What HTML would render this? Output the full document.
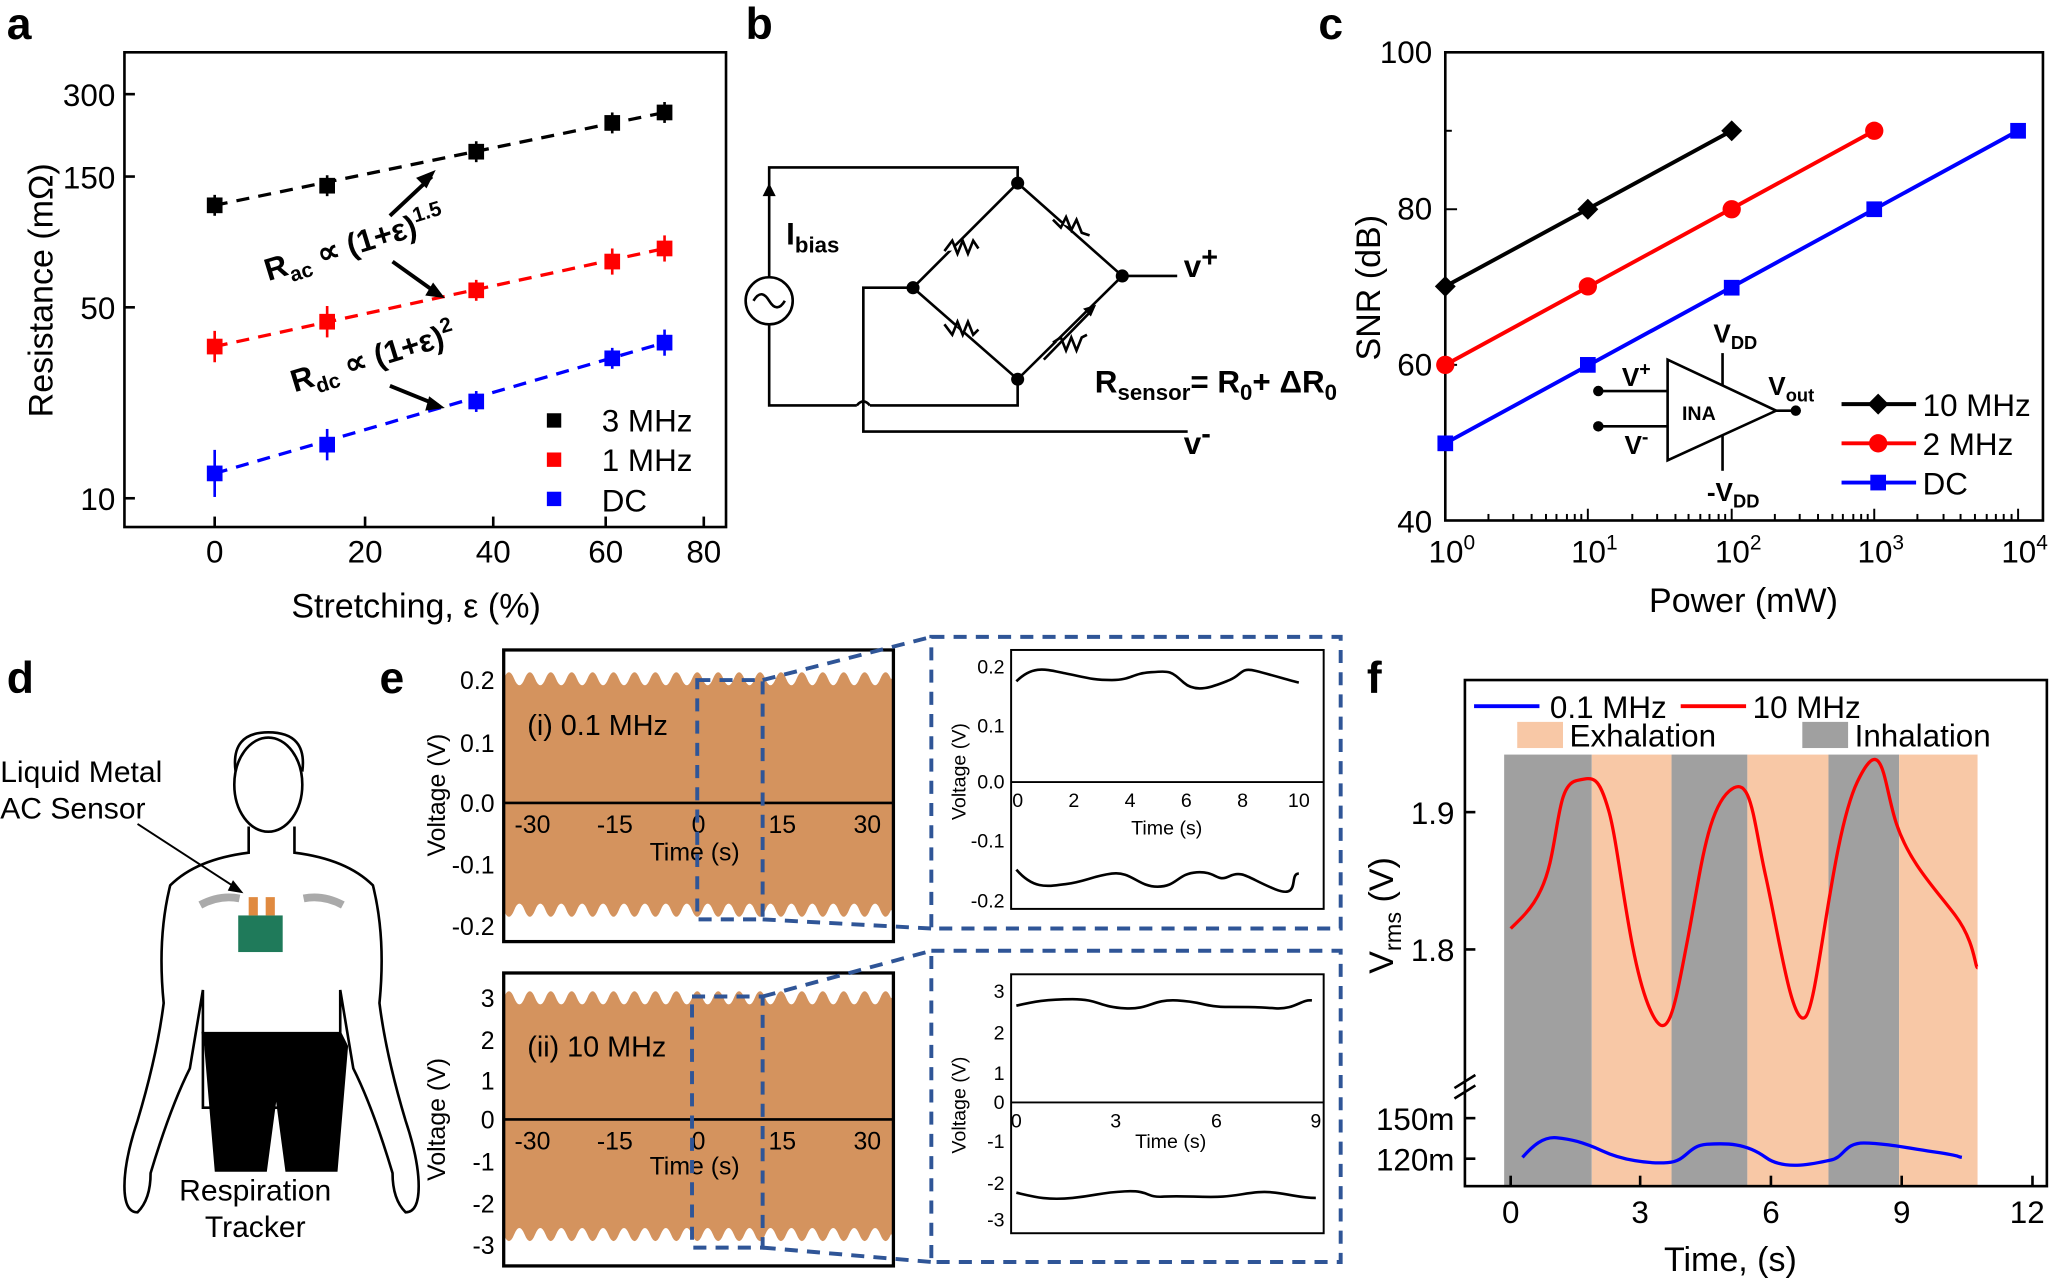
<!DOCTYPE html>
<html><head><meta charset="utf-8"><style>
html,body{margin:0;padding:0;background:#fff}
svg{display:block;font-family:"Liberation Sans",Arial,sans-serif}
</style></head><body>
<svg width="2051" height="1279" viewBox="0 0 1568 978" xmlns="http://www.w3.org/2000/svg">
<g font-weight="bold" font-size="34">
<text x="5" y="30">a</text><text x="570" y="30">b</text><text x="1008" y="30">c</text>
<text x="5" y="530">d</text><text x="290" y="530">e</text><text x="1045" y="530">f</text>
</g>
<!-- Panel a -->
<g font-size="24">
<rect x="95" y="40" width="460" height="363" fill="none" stroke="#000" stroke-width="2"/>
<g stroke="#000" stroke-width="2">
<line x1="164" y1="403" x2="164" y2="395"/><line x1="279" y1="403" x2="279" y2="395"/><line x1="377" y1="403" x2="377" y2="395"/><line x1="463" y1="403" x2="463" y2="395"/><line x1="538" y1="403" x2="538" y2="395"/>
<line x1="95" y1="381" x2="103" y2="381"/><line x1="95" y1="235" x2="103" y2="235"/><line x1="95" y1="135" x2="103" y2="135"/><line x1="95" y1="72" x2="103" y2="72"/>
</g>
<text x="164" y="430" text-anchor="middle">0</text><text x="279" y="430" text-anchor="middle">20</text><text x="377" y="430" text-anchor="middle">40</text><text x="463" y="430" text-anchor="middle">60</text><text x="538" y="430" text-anchor="middle">80</text>
<text x="88" y="390" text-anchor="end">10</text><text x="88" y="244" text-anchor="end">50</text><text x="88" y="144" text-anchor="end">150</text><text x="88" y="81" text-anchor="end">300</text>
<text x="318" y="472" text-anchor="middle" font-size="26">Stretching, ε (%)</text>
<text transform="translate(40,222) rotate(-90)" text-anchor="middle" font-size="26">Resistance (mΩ)</text>
<g stroke-dasharray="10,7" stroke-width="2.5"><line x1="164" y1="157" x2="508" y2="86" stroke="#000"/><line x1="164" y1="265" x2="508" y2="190" stroke="#f00"/><line x1="164" y1="362" x2="508" y2="262" stroke="#00f"/></g>
<g stroke-width="2">
<g stroke="#000"><line x1="164" y1="149" x2="164" y2="165"/><line x1="250" y1="134" x2="250" y2="150"/><line x1="364" y1="108" x2="364" y2="124"/><line x1="468" y1="86" x2="468" y2="102"/><line x1="508" y1="78" x2="508" y2="94"/></g>
<g stroke="#f00"><line x1="164" y1="253" x2="164" y2="277"/><line x1="250" y1="234" x2="250" y2="258"/><line x1="364" y1="214" x2="364" y2="230"/><line x1="468" y1="190" x2="468" y2="210"/><line x1="508" y1="180" x2="508" y2="200"/></g>
<g stroke="#00f"><line x1="164" y1="344" x2="164" y2="380"/><line x1="250" y1="328" x2="250" y2="352"/><line x1="364" y1="299" x2="364" y2="315"/><line x1="468" y1="266" x2="468" y2="282"/><line x1="508" y1="252" x2="508" y2="272"/></g>
</g>
<g><rect x="158" y="151" width="12" height="12"/><rect x="244" y="136" width="12" height="12"/><rect x="358" y="110" width="12" height="12"/><rect x="462" y="88" width="12" height="12"/><rect x="502" y="80" width="12" height="12"/></g>
<g fill="#f00"><rect x="158" y="259" width="12" height="12"/><rect x="244" y="240" width="12" height="12"/><rect x="358" y="216" width="12" height="12"/><rect x="462" y="194" width="12" height="12"/><rect x="502" y="184" width="12" height="12"/></g>
<g fill="#00f"><rect x="158" y="356" width="12" height="12"/><rect x="244" y="334" width="12" height="12"/><rect x="358" y="301" width="12" height="12"/><rect x="462" y="268" width="12" height="12"/><rect x="502" y="256" width="12" height="12"/></g>
<rect x="418" y="316" width="11" height="11"/><text x="460" y="330">3 MHz</text>
<rect x="418" y="346" width="11" height="11" fill="#f00"/><text x="460" y="360">1 MHz</text>
<rect x="418" y="376" width="11" height="11" fill="#00f"/><text x="460" y="391">DC</text>
<text transform="translate(205,215) rotate(-17)" font-weight="bold" font-size="24">R<tspan font-size="16" dy="6">ac</tspan><tspan dy="-6"> ∝ (1+ε)</tspan><tspan font-size="16" dy="-10">1.5</tspan></text>
<text transform="translate(225,300) rotate(-17)" font-weight="bold" font-size="24">R<tspan font-size="16" dy="6">dc</tspan><tspan dy="-6"> ∝ (1+ε)</tspan><tspan font-size="16" dy="-10">2</tspan></text>
<g stroke="#000" stroke-width="3"><line x1="298" y1="165" x2="330" y2="135"/><line x1="300" y1="200" x2="335" y2="225"/><line x1="298" y1="295" x2="335" y2="310"/></g>
<polygon points="333,130 318,136 326,144" /><polygon points="340,228 325,226 331,216"/><polygon points="340,312 325,314 328,303"/>
</g>
<!-- Panel b -->
<g stroke="#000" stroke-width="2" fill="none">
<polyline points="588,212 588,128 778,128 778,140"/>
<circle cx="588" cy="230" r="18"/><path d="M576,230 q6,-10 12,0 q6,10 12,0"/>
<polyline points="588,248 588,310 655,310"/>
<polyline points="698,220 660,220 660,330 908,330"/>
<path d="M655,310 q5,-6 10,0" />
<polyline points="778,290 778,310 665,310"/>
<line x1="778" y1="140" x2="698" y2="220"/><line x1="778" y1="140" x2="858" y2="211"/>
<line x1="698" y1="220" x2="778" y2="290"/><line x1="858" y1="211" x2="778" y2="290"/>
<line x1="858" y1="211" x2="900" y2="211"/>
<path d="M722,192 l6,-8 l4,10 l4,-10 l4,10 l4,-10 l4,6" fill="#fff"/>
<path d="M805,168 l6,6 l4,-8 l4,10 l4,-8 l4,10 l6,2" fill="#fff"/>
<path d="M722,248 l6,8 l4,-10 l4,10 l4,-10 l4,10 l4,-4" fill="#fff"/>
<path d="M805,262 l6,-4 l4,10 l4,-10 l4,10 l4,-10 l4,-2" fill="#fff"/>
<line x1="798" y1="275" x2="835" y2="237"/>
</g>
<g fill="#000"><circle cx="778" cy="140" r="5"/><circle cx="698" cy="220" r="5"/><circle cx="858" cy="211" r="5"/><circle cx="778" cy="290" r="5"/><polygon points="588,140 583,150 593,150"/><polygon points="838,233 828,236 834,242"/></g>
<g font-weight="bold" font-size="24">
<text x="601" y="187">I<tspan font-size="17" dy="6">bias</tspan></text>
<text x="905" y="212">v<tspan dy="-8" font-size="22">+</tspan></text>
<text x="905" y="347">v<tspan dy="-8" font-size="22">-</tspan></text>
<text x="837" y="300">R<tspan font-size="17" dy="6">sensor</tspan><tspan dy="-6">= R</tspan><tspan font-size="17" dy="6">0</tspan><tspan dy="-6">+ ΔR</tspan><tspan font-size="17" dy="6">0</tspan></text>
</g>
<!-- Panel c -->
<g font-size="24">
<rect x="1105" y="40" width="457" height="358" fill="none" stroke="#000" stroke-width="2"/>
<g stroke="#000" stroke-width="1.5">
<line x1="1138" y1="398" x2="1138" y2="393"/><line x1="1157" y1="398" x2="1157" y2="393"/><line x1="1171" y1="398" x2="1171" y2="393"/><line x1="1182" y1="398" x2="1182" y2="393"/><line x1="1190" y1="398" x2="1190" y2="393"/><line x1="1198" y1="398" x2="1198" y2="393"/><line x1="1204" y1="398" x2="1204" y2="393"/><line x1="1209" y1="398" x2="1209" y2="393"/>
<line x1="1248" y1="398" x2="1248" y2="393"/><line x1="1267" y1="398" x2="1267" y2="393"/><line x1="1281" y1="398" x2="1281" y2="393"/><line x1="1291" y1="398" x2="1291" y2="393"/><line x1="1300" y1="398" x2="1300" y2="393"/><line x1="1307" y1="398" x2="1307" y2="393"/><line x1="1314" y1="398" x2="1314" y2="393"/><line x1="1319" y1="398" x2="1319" y2="393"/>
<line x1="1357" y1="398" x2="1357" y2="393"/><line x1="1376" y1="398" x2="1376" y2="393"/><line x1="1390" y1="398" x2="1390" y2="393"/><line x1="1401" y1="398" x2="1401" y2="393"/><line x1="1409" y1="398" x2="1409" y2="393"/><line x1="1417" y1="398" x2="1417" y2="393"/><line x1="1423" y1="398" x2="1423" y2="393"/><line x1="1428" y1="398" x2="1428" y2="393"/>
<line x1="1466" y1="398" x2="1466" y2="393"/><line x1="1486" y1="398" x2="1486" y2="393"/><line x1="1499" y1="398" x2="1499" y2="393"/><line x1="1510" y1="398" x2="1510" y2="393"/><line x1="1519" y1="398" x2="1519" y2="393"/><line x1="1526" y1="398" x2="1526" y2="393"/><line x1="1532" y1="398" x2="1532" y2="393"/><line x1="1538" y1="398" x2="1538" y2="393"/>
<line x1="1214" y1="398" x2="1214" y2="389"/><line x1="1324" y1="398" x2="1324" y2="389"/><line x1="1433" y1="398" x2="1433" y2="389"/><line x1="1543" y1="398" x2="1543" y2="389"/>
<line x1="1105" y1="279" x2="1114" y2="279"/><line x1="1105" y1="160" x2="1114" y2="160"/><line x1="1105" y1="100" x2="1110" y2="100"/>
</g>
<text x="1095" y="48" text-anchor="end">100</text><text x="1095" y="168" text-anchor="end">80</text><text x="1095" y="287" text-anchor="end">60</text><text x="1095" y="407" text-anchor="end">40</text>
<text x="1110" y="430" text-anchor="middle">10<tspan font-size="16" dy="-10">0</tspan></text>
<text x="1219" y="430" text-anchor="middle">10<tspan font-size="16" dy="-10">1</tspan></text>
<text x="1329" y="430" text-anchor="middle">10<tspan font-size="16" dy="-10">2</tspan></text>
<text x="1438" y="430" text-anchor="middle">10<tspan font-size="16" dy="-10">3</tspan></text>
<text x="1548" y="430" text-anchor="middle">10<tspan font-size="16" dy="-10">4</tspan></text>
<text x="1333" y="468" text-anchor="middle" font-size="26">Power (mW)</text>
<text transform="translate(1055,220) rotate(-90)" text-anchor="middle" font-size="26">SNR (dB)</text>
<g stroke-width="3"><line x1="1105" y1="219" x2="1324" y2="100" stroke="#000"/><line x1="1105" y1="279" x2="1433" y2="100" stroke="#f00"/><line x1="1105" y1="339" x2="1543" y2="100" stroke="#00f"/></g>
<g><polygon points="1105,211 1113,219 1105,227 1097,219"/><polygon points="1214,152 1222,160 1214,168 1206,160"/><polygon points="1324,92 1332,100 1324,108 1316,100"/></g>
<g fill="#f00"><circle cx="1105" cy="279" r="7"/><circle cx="1214" cy="219" r="7"/><circle cx="1324" cy="160" r="7"/><circle cx="1433" cy="100" r="7"/></g>
<g fill="#00f"><rect x="1099" y="333" width="12" height="12"/><rect x="1208" y="273" width="12" height="12"/><rect x="1318" y="214" width="12" height="12"/><rect x="1427" y="154" width="12" height="12"/><rect x="1537" y="94" width="12" height="12"/></g>
<line x1="1408" y1="309" x2="1465" y2="309" stroke="#000" stroke-width="3"/><polygon points="1436,301 1444,309 1436,317 1428,309"/><text x="1470" y="318">10 MHz</text>
<line x1="1408" y1="339" x2="1465" y2="339" stroke="#f00" stroke-width="3"/><circle cx="1436" cy="339" r="7" fill="#f00"/><text x="1470" y="348">2 MHz</text>
<line x1="1408" y1="369" x2="1465" y2="369" stroke="#00f" stroke-width="3"/><rect x="1430" y="363" width="12" height="12" fill="#00f"/><text x="1470" y="378">DC</text>
<g stroke="#000" stroke-width="2" fill="none"><polygon points="1275,275 1275,352 1358,314"/><line x1="1222" y1="299" x2="1275" y2="299"/><line x1="1222" y1="326" x2="1275" y2="326"/><line x1="1317" y1="295" x2="1317" y2="270"/><line x1="1317" y1="333" x2="1317" y2="360"/><line x1="1358" y1="314" x2="1373" y2="314"/></g>
<circle cx="1222" cy="299" r="4"/><circle cx="1222" cy="326" r="4"/><circle cx="1373" cy="314" r="4"/>
<g font-weight="bold" font-size="20"><text x="1286" y="321" font-size="15">INA</text>
<text x="1240" y="295">V<tspan font-size="15" dy="-8">+</tspan></text><text x="1242" y="347">V<tspan font-size="15" dy="-8">-</tspan></text>
<text x="1310" y="262">V<tspan font-size="14" dy="5">DD</tspan></text><text x="1305" y="383">-V<tspan font-size="14" dy="5">DD</tspan></text>
<text x="1352" y="302">V<tspan font-size="14" dy="5">out</tspan></text></g>
</g>
<!-- Panel d -->
<g stroke="#000" stroke-width="2" fill="none">
<path d="M190,632 l0,20 q-40,5 -60,25 q-10,40 -5,90 q-5,40 -20,90 q-10,30 -10,50 q0,20 10,20 q10,-10 10,-30 q15,-50 30,-80 l10,-60 l0,90 l105,0 l0,-90 l10,60 q15,30 30,80 q0,20 10,30 q10,0 10,-20 q0,-20 -10,-50 q-15,-50 -20,-90 q5,-50 -5,-90 q-20,-20 -60,-25 l0,-20"/>
<path d="M155,790 l105,0 l5,10 l-8,95 l-38,0 l-8,-60 l-8,60 l-38,0 l-8,-95 z" fill="#000"/>
<ellipse cx="205" cy="600" rx="26" ry="36" fill="#fff"/>
<path d="M180,590 q-4,-30 25,-30 q30,0 26,30" />
<path d="M153,692 q15,-8 30,-5 M232,687 q15,-3 30,5" stroke="#aaa" stroke-width="6"/>
</g>
<rect x="182" y="700" width="34" height="28" fill="#1f7a5a"/><rect x="190" y="686" width="7" height="14" fill="#e08a40"/><rect x="203" y="686" width="7" height="14" fill="#e08a40"/>
<line x1="105" y1="630" x2="182" y2="680" stroke="#000" stroke-width="1.5"/><polygon points="186,683 174,681 178,673"/>
<g font-size="23"><text x="0" y="598">Liquid Metal</text><text x="0" y="626">AC Sensor</text>
<text x="195" y="918" text-anchor="middle">Respiration</text><text x="195" y="946" text-anchor="middle">Tracker</text></g>
<!-- Panel e -->
<g font-size="19">
<path fill="#d4935e" d="M385,519 q4,-10 8,0 t8,0 t8,0 t8,0 t8,0 t8,0 t8,0 t8,0 t8,0 t8,0 t8,0 t8,0 t8,0 t8,0 t8,0 t8,0 t8,0 t8,0 t8,0 t8,0 t8,0 t8,0 t8,0 t8,0 t8,0 t8,0 t8,0 t8,0 t8,0 t8,0 t8,0 t8,0 t8,0 t8,0 t8,0 t8,0 t8,0 L683,519 L683,696 L681,696 q-4,10 -8,0 t-8,0 t-8,0 t-8,0 t-8,0 t-8,0 t-8,0 t-8,0 t-8,0 t-8,0 t-8,0 t-8,0 t-8,0 t-8,0 t-8,0 t-8,0 t-8,0 t-8,0 t-8,0 t-8,0 t-8,0 t-8,0 t-8,0 t-8,0 t-8,0 t-8,0 t-8,0 t-8,0 t-8,0 t-8,0 t-8,0 t-8,0 t-8,0 t-8,0 t-8,0 t-8,0 t-8,0 Z"/>
<path fill="#d4935e" d="M385,763 q4,-10 8,0 t8,0 t8,0 t8,0 t8,0 t8,0 t8,0 t8,0 t8,0 t8,0 t8,0 t8,0 t8,0 t8,0 t8,0 t8,0 t8,0 t8,0 t8,0 t8,0 t8,0 t8,0 t8,0 t8,0 t8,0 t8,0 t8,0 t8,0 t8,0 t8,0 t8,0 t8,0 t8,0 t8,0 t8,0 t8,0 t8,0 L683,763 L683,944 L681,944 q-4,10 -8,0 t-8,0 t-8,0 t-8,0 t-8,0 t-8,0 t-8,0 t-8,0 t-8,0 t-8,0 t-8,0 t-8,0 t-8,0 t-8,0 t-8,0 t-8,0 t-8,0 t-8,0 t-8,0 t-8,0 t-8,0 t-8,0 t-8,0 t-8,0 t-8,0 t-8,0 t-8,0 t-8,0 t-8,0 t-8,0 t-8,0 t-8,0 t-8,0 t-8,0 t-8,0 t-8,0 t-8,0 Z"/>
<rect x="385" y="497" width="298" height="223" fill="none" stroke="#000" stroke-width="2.5"/>
<line x1="385" y1="614" x2="683" y2="614" stroke="#000" stroke-width="2"/>
<rect x="385" y="744" width="298" height="224" fill="none" stroke="#000" stroke-width="2.5"/>
<line x1="385" y1="856" x2="683" y2="856" stroke="#000" stroke-width="2"/>
<g text-anchor="end"><text x="378" y="527">0.2</text><text x="378" y="575">0.1</text><text x="378" y="621">0.0</text><text x="378" y="668">-0.1</text><text x="378" y="715">-0.2</text>
<text x="378" y="770">3</text><text x="378" y="802">2</text><text x="378" y="833">1</text><text x="378" y="863">0</text><text x="378" y="895">-1</text><text x="378" y="927">-2</text><text x="378" y="959">-3</text></g>
<g text-anchor="middle"><text x="407" y="637">-30</text><text x="470" y="637">-15</text><text x="534" y="637">0</text><text x="598" y="637">15</text><text x="663" y="637">30</text>
<text x="407" y="879">-30</text><text x="470" y="879">-15</text><text x="534" y="879">0</text><text x="598" y="879">15</text><text x="663" y="879">30</text>
<text x="531" y="658">Time (s)</text><text x="531" y="898">Time (s)</text></g>
<text font-size="22" x="403" y="562">(i) 0.1 MHz</text><text font-size="22" x="403" y="808">(ii) 10 MHz</text>
<text transform="translate(340,608) rotate(-90)" text-anchor="middle">Voltage (V)</text>
<text transform="translate(340,856) rotate(-90)" text-anchor="middle">Voltage (V)</text>
<g stroke="#2f5597" stroke-width="3" stroke-dasharray="10,7" fill="none">
<rect x="533" y="520" width="50" height="183"/><rect x="529" y="762" width="54" height="192"/>
<rect x="712" y="487" width="313" height="223"/><rect x="712" y="727" width="313" height="238"/>
<line x1="583" y1="520" x2="712" y2="487"/><line x1="583" y1="703" x2="712" y2="710"/>
<line x1="583" y1="762" x2="712" y2="727"/><line x1="583" y1="954" x2="712" y2="965"/>
</g>
<rect x="773" y="497" width="239" height="198" fill="none" stroke="#000" stroke-width="1.5"/>
<line x1="773" y1="598" x2="1012" y2="598" stroke="#000" stroke-width="1.5"/>
<rect x="773" y="745" width="239" height="198" fill="none" stroke="#000" stroke-width="1.5"/>
<line x1="773" y1="843" x2="1012" y2="843" stroke="#000" stroke-width="1.5"/>
<g font-size="15" text-anchor="end"><text x="768" y="515">0.2</text><text x="768" y="560">0.1</text><text x="768" y="603">0.0</text><text x="768" y="648">-0.1</text><text x="768" y="694">-0.2</text>
<text x="768" y="763">3</text><text x="768" y="795">2</text><text x="768" y="826">1</text><text x="768" y="848">0</text><text x="768" y="878">-1</text><text x="768" y="910">-2</text><text x="768" y="938">-3</text></g>
<g font-size="15" text-anchor="middle"><text x="778" y="617">0</text><text x="821" y="617">2</text><text x="864" y="617">4</text><text x="907" y="617">6</text><text x="950" y="617">8</text><text x="993" y="617">10</text><text x="892" y="638">Time (s)</text>
<text x="777" y="862">0</text><text x="853" y="862">3</text><text x="930" y="862">6</text><text x="1006" y="862">9</text><text x="895" y="878">Time (s)</text></g>
<text font-size="15" transform="translate(738,590) rotate(-90)" text-anchor="middle">Voltage (V)</text>
<text font-size="15" transform="translate(738,845) rotate(-90)" text-anchor="middle">Voltage (V)</text>
<g stroke="#000" stroke-width="2" fill="none">
<path d="M777,521 C790,508 800,512 815,515 S835,520 850,520 S865,515 880,514 S895,513 905,522 S930,524 940,520 S948,510 960,513 S985,520 993,522"/>
<path d="M777,665 C790,680 800,678 815,676 S835,670 850,668 S870,678 885,678 S900,668 915,667 S930,675 940,670 S955,672 975,680 S985,668 993,668"/>
<path d="M777,769 C790,766 800,764 820,764 S840,770 860,771 S880,764 900,765 S920,770 940,770 S960,770 975,771 S995,764 1003,765"/>
<path d="M777,912 C790,915 800,918 820,916 S840,912 860,911 S875,916 890,915 S920,916 935,915 S960,910 975,912 S995,916 1006,916"/>
</g>
</g>
<!-- Panel f -->
<g font-size="24">
<rect x="1150" y="577" width="67" height="330" fill="#a0a0a0"/><rect x="1217" y="577" width="61" height="330" fill="#f8c8a6"/>
<rect x="1278" y="577" width="58" height="330" fill="#a0a0a0"/><rect x="1336" y="577" width="62" height="330" fill="#f8c8a6"/>
<rect x="1398" y="577" width="54" height="330" fill="#a0a0a0"/><rect x="1452" y="577" width="60" height="330" fill="#f8c8a6"/>
<rect x="1120" y="520" width="445" height="387" fill="none" stroke="#000" stroke-width="2"/>
<path d="M1155,710 C1165,700 1178,690 1185,660 S1192,600 1205,597 S1222,592 1230,620 S1245,730 1260,768 S1280,772 1290,720 S1305,620 1322,605 S1340,625 1350,670 S1370,785 1380,778 S1400,640 1420,598 S1440,600 1450,630 S1480,680 1495,700 S1510,740 1512,740" fill="none" stroke="#f00" stroke-width="2.5"/>
<path d="M1164,885 C1172,876 1180,869 1190,870 S1210,873 1225,880 S1260,890 1275,889 S1290,876 1305,875 S1335,874 1350,885 S1390,889 1400,887 S1410,874 1425,874 S1460,878 1480,881 S1495,884 1500,885" fill="none" stroke="#00f" stroke-width="2.5"/>
<line x1="1127" y1="540" x2="1177" y2="540" stroke="#00f" stroke-width="3"/><text x="1185" y="549">0.1 MHz</text>
<line x1="1285" y1="540" x2="1335" y2="540" stroke="#f00" stroke-width="3"/><text x="1340" y="549">10 MHz</text>
<rect x="1160" y="552" width="35" height="20" fill="#f8c8a6"/><text x="1200" y="571">Exhalation</text>
<rect x="1378" y="552" width="35" height="20" fill="#a0a0a0"/><text x="1418" y="571">Inhalation</text>
<g stroke="#000" stroke-width="2"><line x1="1120" y1="621" x2="1128" y2="621"/><line x1="1120" y1="726" x2="1128" y2="726"/><line x1="1120" y1="855" x2="1128" y2="855"/><line x1="1120" y1="886" x2="1128" y2="886"/>
<line x1="1112" y1="832" x2="1128" y2="822"/><line x1="1112" y1="840" x2="1128" y2="830"/>
<line x1="1155" y1="907" x2="1155" y2="899"/><line x1="1254" y1="907" x2="1254" y2="899"/><line x1="1354" y1="907" x2="1354" y2="899"/><line x1="1454" y1="907" x2="1454" y2="899"/><line x1="1554" y1="907" x2="1554" y2="899"/></g>
<g text-anchor="end"><text x="1112" y="630">1.9</text><text x="1112" y="735">1.8</text><text x="1112" y="864">150m</text><text x="1112" y="895">120m</text></g>
<g text-anchor="middle"><text x="1155" y="935">0</text><text x="1254" y="935">3</text><text x="1354" y="935">6</text><text x="1454" y="935">9</text><text x="1550" y="935">12</text>
<text x="1323" y="972" font-size="26">Time, (s)</text></g>
<text transform="translate(1065,700) rotate(-90)" text-anchor="middle" font-size="26">V<tspan font-size="18" dy="6">rms</tspan><tspan dy="-6"> (V)</tspan></text>
</g>
</svg>
</body></html>
